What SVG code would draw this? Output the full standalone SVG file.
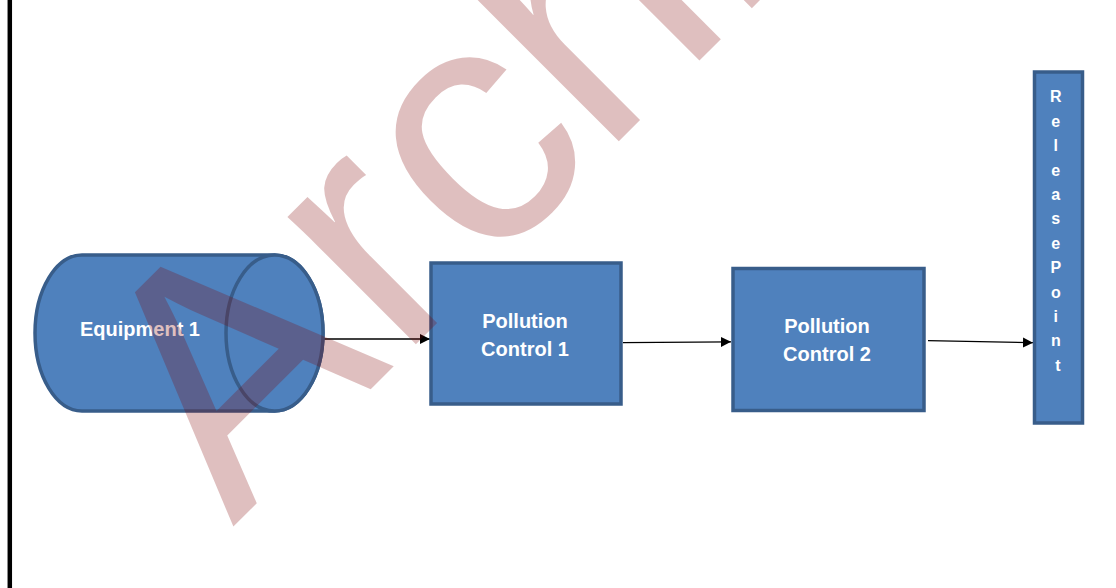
<svg xmlns="http://www.w3.org/2000/svg" width="1116" height="588" viewBox="0 0 1116 588">
  <style>
    .shape { fill: #4f81bd; stroke: #385d8a; stroke-width: 3.5; }
    .label { font-family: "Liberation Sans", Arial, sans-serif; font-weight: bold; font-size: 20px; fill: #ffffff; text-anchor: middle; }
    .vlabel { font-family: "Liberation Sans", Arial, sans-serif; font-weight: bold; font-size: 16px; fill: #ffffff; text-anchor: middle; }
    .flow { fill: none; stroke: #000000; stroke-width: 1.3; marker-end: url(#arrow); }
    .stamp { font-family: "Liberation Sans", Arial, sans-serif; font-size: 342px; fill: #800000; fill-opacity: 0.25; }
  </style>
  <defs>
    <marker id="arrow" viewBox="0 0 10 10" refX="10" refY="5" markerUnits="userSpaceOnUse" markerWidth="10" markerHeight="11" orient="auto">
      <path d="M0,0 L10,5 L0,10 Z" fill="#000000"/>
    </marker>
  </defs>

  <rect x="0" y="0" width="1116" height="588" fill="#ffffff"/>

  <!-- page edge -->
  <line x1="9.8" y1="0" x2="9.8" y2="588" stroke="#000000" stroke-width="4.5"/>

  <!-- connectors -->
  <g id="connectors">
    <line class="flow" x1="323" y1="339" x2="430" y2="339"/>
    <line class="flow" x1="623" y1="342.7" x2="731" y2="341.8"/>
    <line class="flow" x1="928" y1="340.7" x2="1033" y2="342.7"/>
  </g>

  <!-- equipment: horizontal cylinder -->
  <g id="equipment-1">
    <path class="shape" d="M82,255 L274.5,255 A48.5,78 0 0 1 274.5,411 L82,411 A47,78 0 0 1 82,255 Z"/>
    <ellipse class="shape" cx="274.5" cy="333" rx="48.5" ry="78"/>
    <text class="label" x="140" y="336">Equipment 1</text>
  </g>

  <g id="pollution-control-1">
    <rect class="shape" x="431" y="263" width="190" height="141"/>
    <text class="label" x="525" y="328.3">Pollution</text>
    <text class="label" x="525" y="355.7">Control 1</text>
  </g>

  <g id="pollution-control-2">
    <rect class="shape" x="733" y="268.5" width="191" height="142"/>
    <text class="label" x="827" y="333.3">Pollution</text>
    <text class="label" x="827" y="360.7">Control 2</text>
  </g>

  <g id="release-point">
    <rect class="shape" x="1034.5" y="72" width="48" height="351"/>
    <text class="vlabel">
      <tspan x="1058" y="102.3">R</tspan>
      <tspan x="1058" dy="24.4">e</tspan>
      <tspan x="1058" dy="24.4">l</tspan>
      <tspan x="1058" dy="24.4">e</tspan>
      <tspan x="1058" dy="24.4">a</tspan>
      <tspan x="1058" dy="24.4">s</tspan>
      <tspan x="1058" dy="24.4">e</tspan>
      <tspan x="1058" dy="24.4">P</tspan>
      <tspan x="1058" dy="24.4">o</tspan>
      <tspan x="1058" dy="24.4">i</tspan>
      <tspan x="1058" dy="24.4">n</tspan>
      <tspan x="1058" dy="24.4">t</tspan>
    </text>
  </g>

  <!-- translucent diagonal stamp over the page -->
  <g id="stamp" transform="translate(380,380) rotate(-45)">
    <text class="stamp" x="-208 27 148 314 503" y="0">Archi</text>
  </g>
</svg>
